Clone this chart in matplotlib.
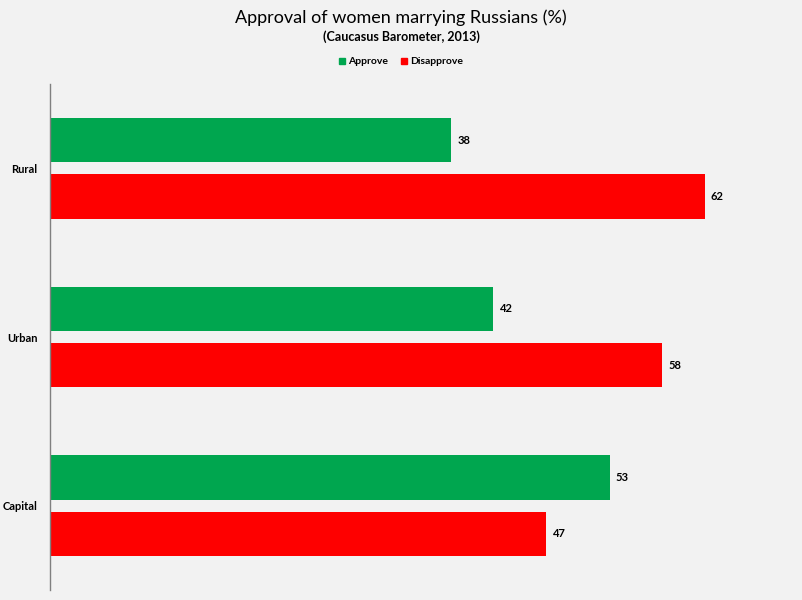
import numpy as np
import matplotlib.pyplot as plt
from matplotlib.patches import Patch

# Data
categories = ['Capital', 'Urban', 'Rural']
approve = [53, 42, 38]
disapprove = [47, 58, 62]

GREEN = '#00a64f'
RED = '#fe0000'
BG = '#f2f2f2'

plt.rcParams['font.family'] = ['Lato', 'DejaVu Sans']

fig = plt.figure(figsize=(8.02, 6.0), dpi=100, facecolor=BG)
ax = fig.add_axes([50 / 802, 10 / 600, 739 / 802, 506 / 600])
ax.set_facecolor(BG)

y = np.arange(len(categories))
h = 0.262
off = 0.167

ax.barh(y + off, approve, height=h, color=GREEN, label='Approve')
ax.barh(y - off, disapprove, height=h, color=RED, label='Disapprove')

for yi, a, d in zip(y, approve, disapprove):
    ax.text(a + 0.6, yi + off, str(a), va='center', ha='left', fontsize=8, fontweight='bold')
    ax.text(d + 0.6, yi - off, str(d), va='center', ha='left', fontsize=8, fontweight='bold')

ax.set_xlim(0, 70)
ax.set_ylim(-0.5, 2.5)
ax.set_yticks(y)
ax.set_yticklabels(categories, fontsize=8, fontweight='bold')
ax.tick_params(axis='y', length=0, pad=9)
ax.set_xticks([])
for s in ['top', 'right', 'bottom']:
    ax.spines[s].set_visible(False)
ax.spines['left'].set_color('#808080')
ax.spines['left'].set_linewidth(1.0)

fig.text(0.5, 1 - 18 / 600, 'Approval of women marrying Russians (%)', ha='center', va='center', fontsize=13)
fig.text(0.5, 1 - 37 / 600, '(Caucasus Barometer, 2013)', ha='center', va='center', fontsize=9, fontweight='bold')

handles = [Patch(color=GREEN, label='Approve'), Patch(color=RED, label='Disapprove')]
fig.legend(handles=handles, loc='center', bbox_to_anchor=(0.5, 1 - 62 / 600), ncol=2, frameon=False,
           prop={'size': 7.5, 'weight': 'bold'}, handlelength=0.6, handleheight=0.6, handletextpad=0.3,
           columnspacing=1.2)

fig.savefig('out.png', dpi=100, facecolor=BG)
